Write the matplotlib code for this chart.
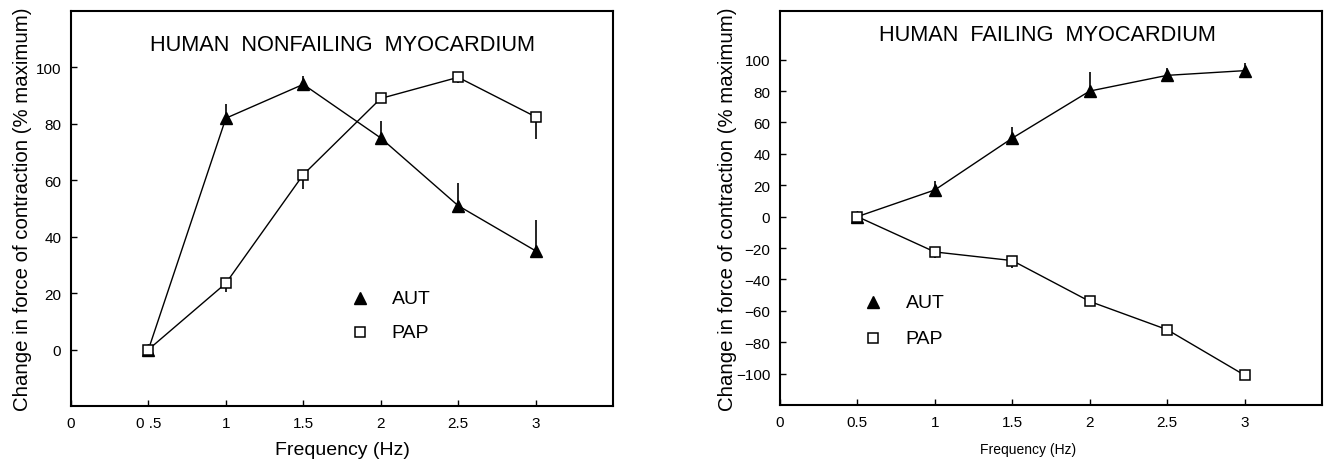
import matplotlib.pyplot as plt

plt.rcParams['font.family'] = ['Liberation Sans', 'DejaVu Sans']

freq = [0.5, 1, 1.5, 2, 2.5, 3]

# nonfailing myocardium
nf_aut = [0, 82, 94, 75, 51, 35]
nf_aut_err = [0, 5, 3, 6, 8, 11]
nf_pap = [0, 23.5, 62, 89, 96.5, 82.5]
nf_pap_err = [0, 3, 5, 1, 2, 8]

# failing myocardium
f_aut = [0, 17, 50, 80, 90, 93]
f_aut_err = [0, 6, 7, 12, 5, 5]
f_pap = [0, -22.5, -28, -54, -72, -101]
f_pap_err = [0, 4, 5, 3, 1, 0]

ylab = 'Change in force of contraction (% maximum)'

fig = plt.figure(figsize=(13.25, 4.6), dpi=100)
ax1 = fig.add_axes([71/1325, 1-407/460, 542/1325, 395/460])
ax2 = fig.add_axes([780/1325, 1-406/460, 542/1325, 394/460])


def draw(ax, aut, aut_err, pap, pap_err):
    zeros = [0]*len(freq)
    ax.errorbar(freq, aut, yerr=[zeros, aut_err], color='black', lw=1,
                marker='^', ms=8, mfc='black', capsize=0, elinewidth=1.2,
                zorder=3)
    ax.errorbar(freq, pap, yerr=[pap_err, zeros], color='black', lw=1,
                marker='s', ms=7, mfc='white', mew=1.1, capsize=0,
                elinewidth=1.2, zorder=4)
    ax.set_xlim(0, 3.5)
    ax.set_xticks([0, 0.5, 1, 1.5, 2, 2.5, 3])
    ax.tick_params(direction='in', length=4, width=1, labelsize=11, pad=7)
    for s in ax.spines.values():
        s.set_linewidth(1.5)


def key(ax, mx, tx, y1, y2):
    ax.plot([mx], [y1], transform=ax.transAxes, ls='none', marker='^',
            ms=9, color='black')
    ax.plot([mx], [y2], transform=ax.transAxes, ls='none', marker='s',
            ms=7, mfc='white', mec='black', mew=1.1)
    ax.text(tx, y1, 'AUT', transform=ax.transAxes, fontsize=14, va='center')
    ax.text(tx, y2, 'PAP', transform=ax.transAxes, fontsize=14, va='center')


draw(ax1, nf_aut, nf_aut_err, nf_pap, nf_pap_err)
ax1.set_ylim(-20, 120)
ax1.set_yticks([0, 20, 40, 60, 80, 100])
ax1.set_xticklabels(['0', '0 .5', '1', '1.5', '2', '2.5', '3'])
ax1.set_ylabel(ylab, fontsize=14.7)
ax1.yaxis.set_label_coords(-0.072, 0.5)
ax1.set_xlabel('Frequency (Hz)', fontsize=14, labelpad=8)
ax1.text(1.75, 108, 'HUMAN  NONFAILING  MYOCARDIUM', fontsize=15.7,
         ha='center', va='center')
key(ax1, 0.533, 0.592, 0.273, 0.187)

draw(ax2, f_aut, f_aut_err, f_pap, f_pap_err)
ax2.set_ylim(-120, 131)
ax2.set_yticks(range(-100, 101, 20))
ax2.set_xticklabels(['0', '0.5', '1', '1.5', '2', '2.5', '3'])
ax2.set_ylabel(ylab, fontsize=14.7)
ax2.yaxis.set_label_coords(-0.079, 0.5)
ax2.set_xlabel('Frequency (Hz)', fontsize=10, labelpad=12)
ax2.xaxis.set_label_coords(1.6/3.5, -0.095)
ax2.text(1.73, 116, 'HUMAN  FAILING  MYOCARDIUM', fontsize=15.7,
         ha='center', va='center')
key(ax2, 0.172, 0.232, 0.261, 0.170)

fig.savefig('out.png', dpi=100)
